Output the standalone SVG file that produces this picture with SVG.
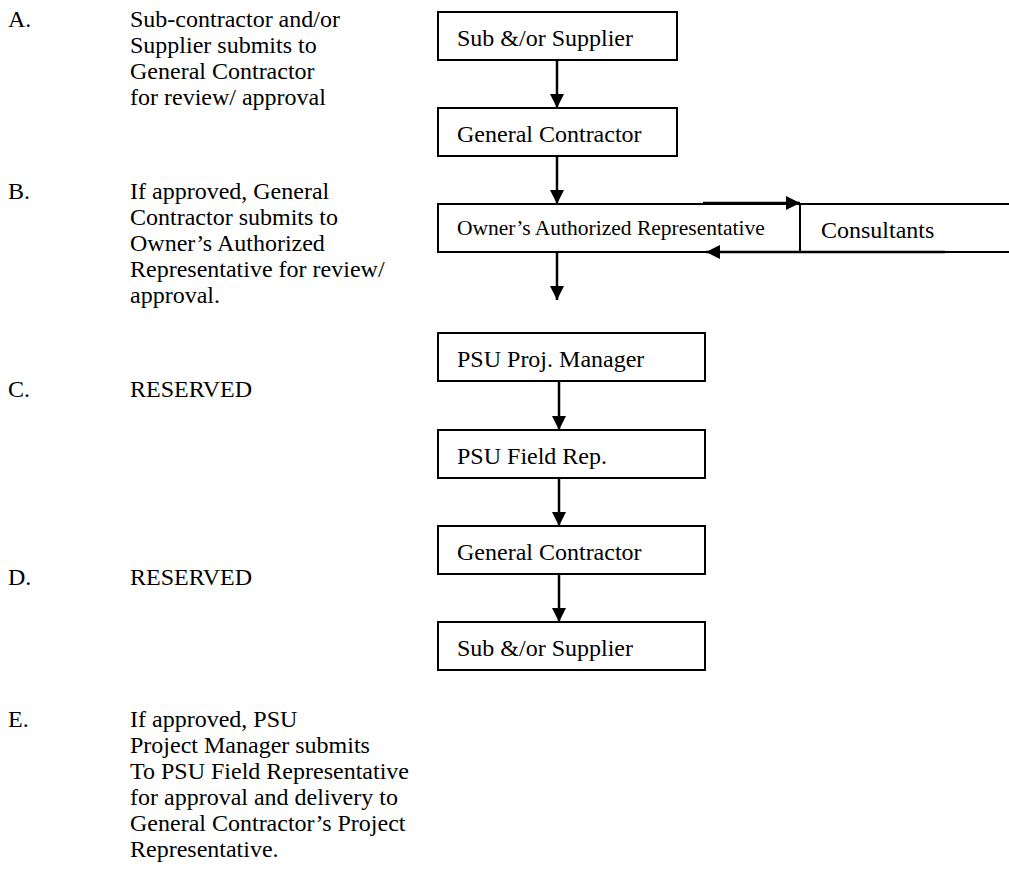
<svg xmlns="http://www.w3.org/2000/svg" width="1009" height="875" viewBox="0 0 1009 875">
<defs>
<style>
.t{font-family:"Liberation Serif","Times New Roman",serif;font-size:24px;fill:#000}
.s{font-size:21.5px}
.box{fill:#fff;stroke:#000;stroke-width:2}
.ln{stroke:#000;stroke-width:2.5;fill:none}
</style>
<marker id="ah" viewBox="0 0 10 10" refX="10" refY="5" markerWidth="14" markerHeight="14" markerUnits="userSpaceOnUse" orient="auto">
<path d="M0,0 L10,5 L0,10 Z" fill="#000"/>
</marker>
</defs>
<rect width="1009" height="875" fill="#fff"/>
<g id="steps" class="t">
<text x="8" y="27">A.</text>
<text x="130" y="27">Sub-contractor and/or</text>
<text x="130" y="53">Supplier submits to</text>
<text x="130" y="79">General Contractor</text>
<text x="130" y="105">for review/ approval</text>
<text x="8" y="199">B.</text>
<text x="130" y="199">If approved, General</text>
<text x="130" y="225">Contractor submits to</text>
<text x="130" y="251">Owner’s Authorized</text>
<text x="130" y="277">Representative for review/</text>
<text x="130" y="303">approval.</text>
<text x="8" y="397">C.</text>
<text x="130" y="397">RESERVED</text>
<text x="8" y="585">D.</text>
<text x="130" y="585">RESERVED</text>
<text x="8" y="727">E.</text>
<text x="130" y="727">If approved, PSU</text>
<text x="130" y="753">Project Manager submits</text>
<text x="130" y="779">To PSU Field Representative</text>
<text x="130" y="805">for approval and delivery to</text>
<text x="130" y="831">General Contractor’s Project</text>
<text x="130" y="857">Representative.</text>
</g>
<g id="n1"><rect class="box" x="438" y="12" width="239" height="48"/><text class="t" x="457" y="46">Sub &amp;/or Supplier</text></g>
<g id="n2"><rect class="box" x="438" y="108" width="239" height="48"/><text class="t" x="457" y="142">General Contractor</text></g>
<g id="n3"><rect class="box" x="438" y="204" width="362" height="48"/><text class="t s" x="457" y="235">Owner’s  Authorized Representative</text></g>
<g id="n4"><rect class="box" x="800" y="204" width="215" height="48"/><text class="t" x="821" y="238">Consultants</text></g>
<g id="n5"><rect class="box" x="438" y="333" width="267" height="48"/><text class="t" x="457" y="367">PSU Proj. Manager</text></g>
<g id="n6"><rect class="box" x="438" y="430" width="267" height="48"/><text class="t" x="457" y="464">PSU Field Rep.</text></g>
<g id="n7"><rect class="box" x="438" y="526" width="267" height="48"/><text class="t" x="457" y="560">General Contractor</text></g>
<g id="n8"><rect class="box" x="438" y="622" width="267" height="48"/><text class="t" x="457" y="656">Sub &amp;/or Supplier</text></g>
<g id="connectors">
<line class="ln" x1="557" y1="60" x2="557" y2="108" marker-end="url(#ah)"/>
<line class="ln" x1="557" y1="156" x2="557" y2="204" marker-end="url(#ah)"/>
<line class="ln" x1="557" y1="252" x2="557" y2="300" marker-end="url(#ah)"/>
<line class="ln" x1="559" y1="381" x2="559" y2="430" marker-end="url(#ah)"/>
<line class="ln" x1="559" y1="478" x2="559" y2="526" marker-end="url(#ah)"/>
<line class="ln" x1="559" y1="574" x2="559" y2="622" marker-end="url(#ah)"/>
<line class="ln" x1="703" y1="203" x2="800" y2="203" marker-end="url(#ah)"/>
<line class="ln" x1="945" y1="252" x2="706" y2="252" marker-end="url(#ah)"/>
</g>
</svg>
